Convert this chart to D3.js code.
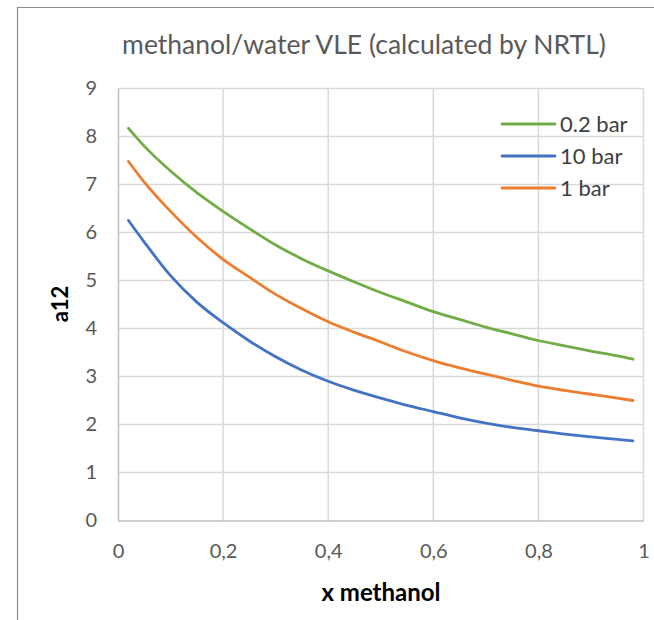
<!DOCTYPE html>
<html>
<head>
<meta charset="utf-8">
<script src="https://cdn.jsdelivr.net/npm/d3@7"></script>
<style>
  html, body { margin: 0; padding: 0; background: #fff; }
  svg { display: block; }
  text { font-family: Lato, "Open Sans", sans-serif; }
</style>
</head>
<body>
<svg id="chart" width="654" height="620"></svg>
<script>
// ---- data ----
const xValues = [0.02, 0.05, 0.10, 0.15, 0.20, 0.25, 0.30, 0.35, 0.40, 0.45, 0.50,
                 0.55, 0.60, 0.65, 0.70, 0.75, 0.80, 0.85, 0.90, 0.95, 0.98];
const series02bar = [8.17, 7.80, 7.28, 6.83, 6.44, 6.08, 5.74, 5.45, 5.20, 4.97, 4.75,
                     4.55, 4.35, 4.19, 4.03, 3.89, 3.75, 3.64, 3.53, 3.43, 3.36];
const series10bar = [6.25, 5.80, 5.10, 4.55, 4.12, 3.74, 3.41, 3.13, 2.90, 2.71, 2.55,
                     2.40, 2.27, 2.14, 2.03, 1.94, 1.87, 1.80, 1.74, 1.69, 1.66];
const series1bar  = [7.48, 7.05, 6.44, 5.90, 5.44, 5.07, 4.71, 4.41, 4.14, 3.92, 3.72,
                     3.51, 3.33, 3.18, 3.05, 2.92, 2.80, 2.71, 2.63, 2.55, 2.50];
const seriesNames = ["0.2 bar", "10 bar", "1 bar"];
const xTicks = [0, 0.2, 0.4, 0.6, 0.8, 1];
const xTickLabels = ["0", "0,2", "0,4", "0,6", "0,8", "1"];
const yTicks = [0, 1, 2, 3, 4, 5, 6, 7, 8, 9];
const titleText = "methanol/water VLE (calculated by NRTL)";
const xAxisTitle = "x methanol";
const yAxisTitle = "a12";

const seriesList = [
  { name: seriesNames[0], values: series02bar, color: "#70AD47" },
  { name: seriesNames[1], values: series10bar, color: "#4472C4" },
  { name: seriesNames[2], values: series1bar,  color: "#ED7D31" }
];

const svg = d3.select("#chart");
const x = d3.scaleLinear().domain([0, 1]).range([118, 643.5]);
const y = d3.scaleLinear().domain([0, 9]).range([520.5, 88.5]);

// outer chart border (left + top)
svg.append("path")
  .attr("d", "M17.5,620 L17.5,7.5 L654,7.5")
  .attr("fill", "none").attr("stroke", "#8c8c8c").attr("stroke-width", 1.2);

// title
svg.append("text")
  .attr("x", 364).attr("y", 54)
  .attr("text-anchor", "middle")
  .attr("font-size", 26.5).attr("fill", "#595959")
  .text(titleText);

// gridlines
const grid = svg.append("g");
grid.selectAll("line.h").data(yTicks.filter(d => d > 0)).join("line")
  .attr("x1", x(0)).attr("x2", x(1))
  .attr("y1", d => y(d)).attr("y2", d => y(d))
  .attr("stroke", "#d9d9d9").attr("stroke-width", 1.5);
grid.selectAll("line.v").data(xTicks.filter(d => d > 0)).join("line")
  .attr("y1", y(0)).attr("y2", y(9))
  .attr("x1", d => x(d)).attr("x2", d => x(d))
  .attr("stroke", "#d9d9d9").attr("stroke-width", 1.5);

// axes
const yAxis = d3.axisLeft(y).tickValues(yTicks).tickSize(0).tickPadding(21).tickFormat(d3.format("d"));
const yg = svg.append("g").attr("transform", `translate(${x(0)},0)`).call(yAxis);
yg.select(".domain").attr("stroke", "#bfbfbf").attr("stroke-width", 1.5);
yg.selectAll("text").attr("font-size", 20).attr("fill", "#595959")
  .attr("font-family", "Lato, 'Open Sans', sans-serif");

const xAxis = d3.axisBottom(x).tickValues(xTicks).tickSize(0).tickPadding(23)
  .tickFormat((d, i) => xTickLabels[i]);
const xg = svg.append("g").attr("transform", `translate(0,${y(0)})`).call(xAxis);
xg.select(".domain").attr("stroke", "#bfbfbf").attr("stroke-width", 1.5);
xg.selectAll("text").attr("font-size", 20).attr("fill", "#595959")
  .attr("font-family", "Lato, 'Open Sans', sans-serif");

// axis titles
svg.append("text")
  .attr("x", 381).attr("y", 601)
  .attr("text-anchor", "middle")
  .attr("font-size", 24).attr("font-weight", "bold").attr("fill", "#000")
  .text(xAxisTitle);
svg.append("text")
  .attr("transform", "translate(68,304) rotate(-90)")
  .attr("text-anchor", "middle")
  .attr("font-size", 22).attr("font-weight", "bold").attr("fill", "#000")
  .text(yAxisTitle);

// lines
const line = d3.line().x((d, i) => x(xValues[i])).y(d => y(d)).curve(d3.curveMonotoneX);
svg.append("g").selectAll("path").data(seriesList).join("path")
  .attr("d", d => line(d.values))
  .attr("fill", "none")
  .attr("stroke", d => d.color)
  .attr("stroke-width", 2.8)
  .attr("stroke-linejoin", "round")
  .attr("stroke-linecap", "round");

// legend
const legend = svg.append("g");
seriesList.forEach((s, i) => {
  const ly = 124 + i * 32;
  legend.append("line")
    .attr("x1", 502).attr("x2", 555).attr("y1", ly).attr("y2", ly)
    .attr("stroke", s.color).attr("stroke-width", 2.8).attr("stroke-linecap", "round");
  legend.append("text")
    .attr("x", 560).attr("y", ly).attr("dy", "0.36em")
    .attr("font-size", 22).attr("fill", "#404040")
    .text(s.name);
});
</script>
</body>
</html>
